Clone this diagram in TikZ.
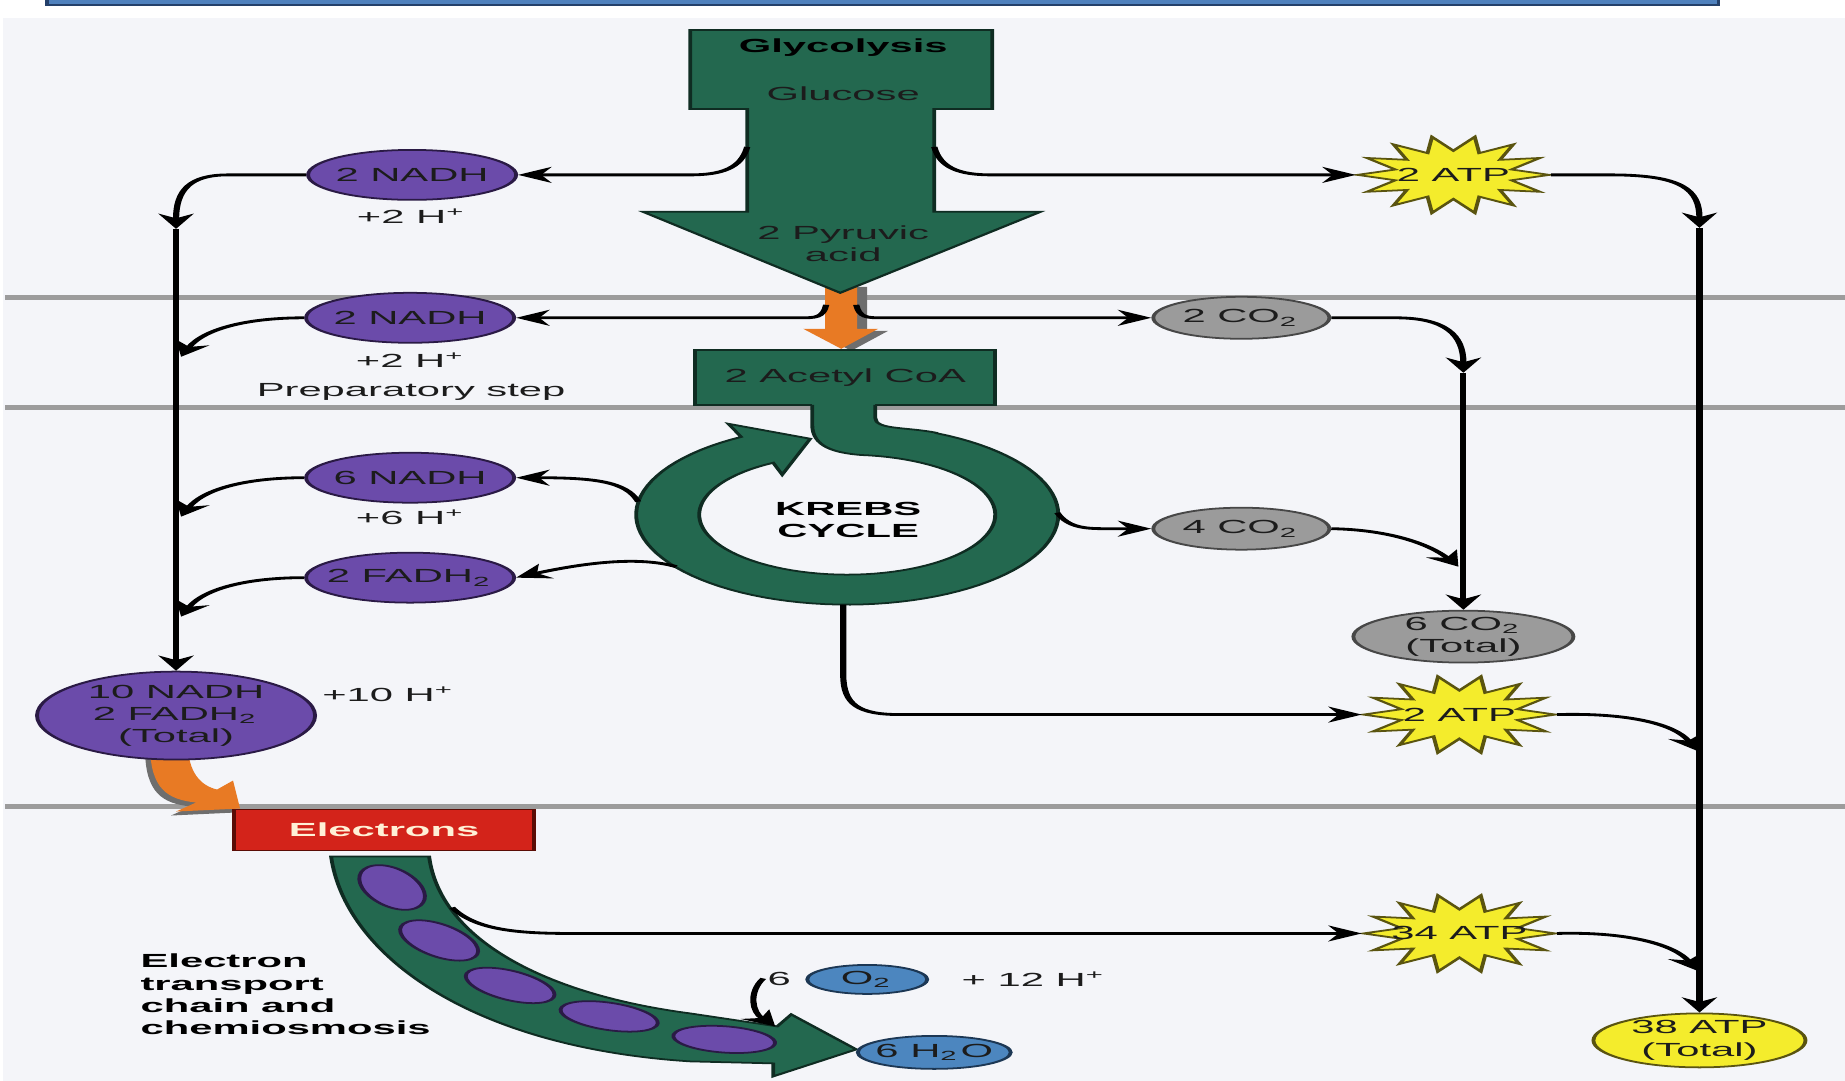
\documentclass[tikz,border=0pt]{standalone}
\usepackage{fontspec}
\setmainfont{Liberation Sans}
\usetikzlibrary{arrows.meta,shapes.geometric}
\definecolor{bgc}{HTML}{F4F5F9}
\definecolor{bannerfill}{HTML}{4F81BD}
\definecolor{bannerdraw}{HTML}{24406A}
\definecolor{memb}{HTML}{9C9C9C}
\definecolor{grn}{HTML}{23684F}
\definecolor{grnd}{HTML}{0F2C22}
\definecolor{purp}{HTML}{6B4BAA}
\definecolor{purpd}{HTML}{2A1A45}
\definecolor{gry}{HTML}{9B9B9B}
\definecolor{gryd}{HTML}{474747}
\definecolor{yel}{HTML}{F4EC2C}
\definecolor{yeld}{HTML}{5A5410}
\definecolor{blu}{HTML}{4C86BF}
\definecolor{blud}{HTML}{1C3754}
\definecolor{redb}{HTML}{D3231A}
\definecolor{redd}{HTML}{5A0C06}
\definecolor{org}{HTML}{E87A24}
\definecolor{shad}{HTML}{6E6E6E}
\definecolor{txt}{HTML}{1C1C1C}
\definecolor{cream}{HTML}{FFF0D6}
\def\sx{0.0045455cm}
\def\sy{0.01cm}
\newcommand\atpstar[2]{%
  \draw[fill=yel, draw=yeld, line width=0.5pt]
    plot[samples at={0,...,27}, variable=\pp]
    ({#1+96*(1-0.38*mod(\pp,2))*cos(\pp*360/28)},{#2-39*(1-0.38*mod(\pp,2))*sin(\pp*360/28)}) -- cycle;}
\begin{document}
\begin{tikzpicture}
\useasboundingbox (0,0) rectangle (18.45,-10.81);
\fill[white] (0,0) rectangle (18.45,-10.81);
\fill[bgc] (0.03,-0.18) rectangle (18.45,-10.81);
\begin{scope}[x=0.0045455cm, y=-0.01cm, transform canvas={xscale=2.2},
  lab/.style={font={\fontsize{5.4pt}{6.3pt}\selectfont}, text=txt, align=center, inner sep=0pt},
  boldlab/.style={lab, font={\fontsize{5.4pt}{6.3pt}\selectfont\bfseries}},
  blob/.style={ellipse, inner sep=0pt, line width=0.5pt},
  nadh/.style={blob, fill=purp, draw=purpd, minimum width=208*\sx, minimum height=50*\sy},
  co2/.style={blob, fill=gry, draw=gryd, minimum width=176*\sx, minimum height=42*\sy},
  atp/.style={ellipse, inner sep=0pt, minimum width=192*\sx, minimum height=78*\sy},
  arr/.style={line width=0.8pt, draw=black, -{Stealth[length=4.3pt,width=4.5pt,inset=1.3pt]}},
  shape line/.style={line width=0.5pt}
]
% banner
\fill[bannerfill, draw=bannerdraw, line width=0.5pt] (47,-3) rectangle (1718,5);
% membranes
\foreach \yy in {298,408,807} \draw[memb, line width=1.45pt] (5,\yy) -- (1845,\yy);

% orange arrow pyruvic -> acetyl CoA
\fill[shad, shift={(10,2)}] (825,285) -- (857,285) -- (857,329) -- (878,329) -- (841,349) -- (803,329) -- (825,329) -- cycle;
\fill[org] (825,285) -- (857,285) -- (857,329) -- (878,329) -- (841,349) -- (803,329) -- (825,329) -- cycle;

% glycolysis arrow
\filldraw[fill=grn, draw=grnd, shape line] (690,30) -- (992,30) -- (992,109) -- (934,109) -- (934,212) -- (1040,212) -- (840,293) -- (643,212) -- (747,212) -- (747,109) -- (690,109) -- cycle;
\node[boldlab, text=black] (glyc) at (843,48) {Glycolysis};
\node[lab] (gluc) at (843,94) {Glucose};
\node[lab] (pyr) at (843,244) {2 Pyruvic\\acid};

% acetyl CoA box
\node[lab, draw=grnd, fill=grn, shape line, minimum width=300*\sx, minimum height=55*\sy] (acoa) at (845,377.5) {2 Acetyl CoA};

% Krebs ring
\fill[grn] (875,400) -- (875,418) .. controls (875,430) and (905,427) .. (936,433)
  -- plot[domain=0:1, samples=90, variable=\tt] ({847+211*cos(65-305*\tt)},{515-90*sin(65-305*\tt)})
  -- (728,424) -- (810,439) -- (782,475)
  -- plot[domain=0:1, samples=90, variable=\tt] ({847+148*cos(120+325*\tt)},{515-60*sin(120+325*\tt)})
  .. controls (834,453) and (812,447) .. (812,425) -- (812,400) -- cycle;
\draw[grnd, shape line] (875,405) -- (875,418) .. controls (875,430) and (905,427) .. (936,433)
  -- plot[domain=0:1, samples=90, variable=\tt] ({847+211*cos(65-305*\tt)},{515-90*sin(65-305*\tt)})
  -- (728,424) -- (810,439) -- (782,475)
  -- plot[domain=0:1, samples=90, variable=\tt] ({847+148*cos(120+325*\tt)},{515-60*sin(120+325*\tt)})
  .. controls (834,453) and (812,447) .. (812,425) -- (812,405);
\node[boldlab, text=black] (krebs) at (848,520) {KREBS\\CYCLE};

% orange arrow total -> electrons
\fill[shad, shift={(-5,4)}] (150,745) .. controls (150,790) and (168,800) .. (196,803) -- (176,812) -- (240,809) -- (233,781) -- (217,790) .. controls (200,786) and (188,772) .. (188,745) -- cycle;
\fill[org] (150,745) .. controls (150,790) and (168,800) .. (196,803) -- (176,812) -- (240,809) -- (233,781) -- (217,790) .. controls (200,786) and (188,772) .. (188,745) -- cycle;

% electron transport band
\filldraw[fill=grn, draw=grnd, shape line] (331,857) .. controls (345,955) and (470,1048) .. (690,1062) -- (773,1064) -- (773,1077) -- (856,1050) -- (791,1015) -- (777,1027) -- (690,1014) .. controls (545,995) and (440,940) .. (429,857) -- cycle;
\foreach \px/\py/\ang in {392/888/-68, 439/941/-52, 510/986/-38, 609/1017/-24, 724/1040/-12}
  \filldraw[fill=purp, draw=purpd, shape line, shift={(\px,\py)}, rotate=\ang] (0,0) ellipse (0.235cm and 0.13cm);

% left column
\node[nadh, label={[lab]center:2 NADH}] (n1) at (412,175) {};
\node[lab] (h1) at (412,216) {+2 H\textsuperscript{+}};
\node[nadh, label={[lab]center:2 NADH}] (n2) at (410,318) {};
\node[lab] (h2) at (411,360) {+2 H\textsuperscript{+}};
\node[lab] (prep) at (411,392) {Preparatory step};
\node[nadh, label={[lab]center:6 NADH}] (n3) at (410,478) {};
\node[lab] (h3) at (411,518) {+6 H\textsuperscript{+}};
\node[nadh, label={[lab]center:{2 FADH\textsubscript{2}}}] (n4) at (410,578) {};
\node[blob, fill=purp, draw=purpd, minimum width=278*\sx, minimum height=88*\sy,
  label={[lab]center:{10 NADH\\2 FADH\textsubscript{2}\\(Total)}}] (tot) at (176,716) {};
\node[lab] (h10) at (389,695) {+10 H\textsuperscript{+}};
\node[boldlab, text=cream, fill=redb, draw=redd, shape line, minimum width=300*\sx, minimum height=41*\sy] (elec) at (384,830.5) {Electrons};
\node[boldlab, text=black, align=left, anchor=west] (etc) at (139,995) {Electron\\transport\\chain and\\chemiosmosis};

% oxygen / water
\node[lab] (six) at (779,980) {6};
\node[blob, fill=blu, draw=blud, minimum width=120*\sx, minimum height=29*\sy,
  label={[lab]center:{O\textsubscript{2}}}] (o2) at (867,980) {};
\node[lab] (h12) at (1034,980) {+ 12 H\textsuperscript{+}};
\node[blob, fill=blu, draw=blud, minimum width=153*\sx, minimum height=33*\sy,
  label={[lab]center:{6 H\textsubscript{2}O}}] (h2o) at (934,1053) {};

% CO2 column
\node[co2, label={[lab]center:{2 CO\textsubscript{2}}}] (co2a) at (1241,318) {};
\node[co2, label={[lab]center:{4 CO\textsubscript{2}}}] (co2b) at (1241,529) {};
\node[blob, fill=gry, draw=gryd, minimum width=220*\sx, minimum height=52*\sy,
  label={[lab]center:{6 CO\textsubscript{2}\\(Total)}}] (co2t) at (1463,637) {};

% ATP column
\atpstar{1453}{175}
\node[atp, label={[lab]center:2 ATP}] (atp1) at (1453,175) {};
\atpstar{1459}{715}
\node[atp, label={[lab]center:2 ATP}] (atp2) at (1459,715) {};
\atpstar{1459}{934}
\node[atp, label={[lab]center:34 ATP}] (atp34) at (1459,934) {};
\node[blob, fill=yel, draw=yeld, minimum width=212*\sx, minimum height=54*\sy,
  label={[lab]center:{38 ATP\\(Total)}}] (atp38) at (1699,1041) {};

% junction coordinates
\coordinate (glyL) at (747,147);
\coordinate (glyR) at (934,147);
\coordinate (shL) at (826,305);
\coordinate (shR) at (856,305);
\coordinate (jL1) at (176,229);
\coordinate (jL2) at (181,357);
\coordinate (jL3) at (181,517);
\coordinate (jL4) at (181,617);
\coordinate (jC1) at (1463,373);
\coordinate (jC2) at (1458,567);
\coordinate (kL1) at (638,502);
\coordinate (kL2) at (676,567);
\coordinate (kR) at (1057,513);
\coordinate (kB) at (843,605);
\coordinate (jA1) at (1699,228);
\coordinate (jA2) at (1696,751);
\coordinate (jA3) at (1696,971);
\coordinate (etcO) at (452,908);
\coordinate (o2a) at (763,979);
\coordinate (o2b) at (775,1027);

% connectors
\draw[arr] (glyL) .. controls (741,168) and (722,175) .. (690,175) -- (n1.east);
\draw[arr] (glyR) .. controls (940,168) and (959,175) .. (991,175) -- (atp1.west);
\draw[arr] (n1.west) -- (228,175) .. controls (190,175) and (176,190) .. (jL1);
\draw[arr] (jL1) -- (tot.north);
\draw[arr] (n2.west) .. controls (250,318) and (205,328) .. (jL2);
\draw[arr] (n3.west) .. controls (250,478) and (205,488) .. (jL3);
\draw[arr] (n4.west) .. controls (250,578) and (205,588) .. (jL4);
\draw[arr] (shL) .. controls (823,318) and (815,318) .. (800,318) -- (n2.east);
\draw[arr] (shR) .. controls (859,318) and (867,318) .. (882,318) -- (co2a.west);
\draw[arr] (co2a.east) -- (1395,318) .. controls (1445,318) and (1463,335) .. (jC1);
\draw[arr] (jC1) -- (co2t.north);
\draw[arr] (co2b.east) .. controls (1390,530) and (1430,545) .. (jC2);
\draw[arr] (kL1) .. controls (626,482) and (595,478) .. (n3.east);
\draw[arr] (kL2) .. controls (640,557) and (590,562) .. (n4.east);
\draw[arr] (kR) .. controls (1068,528) and (1085,529) .. (1105,529) -- (co2b.west);
\draw[arr] (kB) -- (843,675) .. controls (843,705) and (858,715) .. (900,715) -- (atp2.west);
\draw[arr] (atp1.east) -- (1610,175) .. controls (1682,175) and (1699,190) .. (jA1);
\draw[arr] (jA1) -- (atp38.north);
\draw[arr] (atp2.east) .. controls (1630,713) and (1675,725) .. (jA2);
\draw[arr] (atp34.east) .. controls (1630,932) and (1675,946) .. (jA3);
\draw[arr] (etcO) .. controls (475,930) and (515,934) .. (570,934) -- (atp34.west);
\draw[arr] (o2a) .. controls (748,993) and (752,1013) .. (o2b);
\end{scope}
\end{tikzpicture}
\end{document}
